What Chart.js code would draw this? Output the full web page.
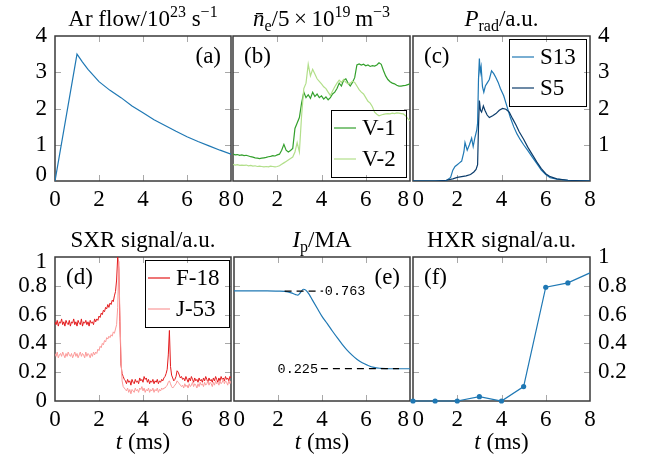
<!DOCTYPE html>
<html><head><meta charset="utf-8">
<script src="https://cdn.jsdelivr.net/npm/chart.js@4.4.1/dist/chart.umd.min.js"></script>
<style>
html,body{margin:0;padding:0;background:#fff;overflow:hidden;font-family:"Liberation Serif","DejaVu Serif",serif}
#wrap{position:relative;width:652px;height:459px;background:#fff}
#wrap canvas{position:absolute;left:0;top:0}
</style></head><body>
<div id="wrap">
<canvas id="pa" width="652" height="459"></canvas>
<canvas id="pb" width="652" height="459"></canvas>
<canvas id="pc" width="652" height="459"></canvas>
<canvas id="pd" width="652" height="459"></canvas>
<canvas id="pe" width="652" height="459"></canvas>
<canvas id="pf" width="652" height="459"></canvas>
</div>
<script>
// ---------------- data ----------------
const timeTicks = [0, 2, 4, 6, 8];

// (a) Ar flow / 1e23 s^-1
const tAr = [0, 1, 1.25, 1.5, 2, 2.5, 3, 3.5, 4, 4.5, 5, 5.5, 6, 6.5, 7, 7.5, 8];
const arFlow = [0, 3.5, 3.28, 3.08, 2.74, 2.5, 2.3, 2.07, 1.88, 1.69, 1.53, 1.37, 1.22, 1.09, 0.97, 0.85, 0.74];

// (b) line-averaged density / 5e19 m^-3, sampled every 0.1 ms
const densV1 = [
  0.74,0.72,0.73,0.71,0.72,0.70,0.71,0.69,0.67,0.66,
  0.64,0.63,0.62,0.63,0.64,0.65,0.67,0.68,0.70,0.69,
  0.72,0.74,0.85,1.01,0.85,0.80,0.84,0.90,1.45,1.60,
  1.75,2.15,2.45,2.30,2.38,2.28,2.45,2.33,2.40,2.30,
  2.35,2.26,2.32,2.24,2.30,2.40,2.45,2.55,2.70,2.62,
  2.78,2.82,2.70,2.62,2.72,2.85,3.20,3.23,3.20,3.22,
  3.18,3.20,3.16,3.18,3.17,3.20,3.26,3.22,3.05,2.90,
  2.80,2.74,2.70,2.68,2.64,2.62,2.62,2.63,2.64,2.66,
  2.68];
const densV2 = [
  0.46,0.44,0.45,0.43,0.44,0.43,0.44,0.42,0.43,0.41,
  0.42,0.40,0.41,0.40,0.39,0.40,0.39,0.41,0.40,0.39,
  0.40,0.42,0.46,0.50,0.54,0.58,0.62,0.66,0.80,1.06,
  0.80,1.80,2.55,2.70,3.22,2.90,3.08,2.95,2.82,2.75,
  2.68,2.60,2.55,2.45,2.36,2.48,2.60,2.70,2.78,2.72,
  2.80,2.72,2.68,2.70,2.75,2.72,2.62,2.52,2.45,2.40,
  2.30,2.20,2.15,2.05,1.90,1.84,1.80,1.82,1.84,1.85,
  1.86,1.85,1.87,1.86,1.88,1.87,1.86,1.85,1.80,1.72,
  1.66];

// (c) radiated power, a.u.
const tS13 = [0,1,1.5,1.7,1.8,1.9,2.0,2.1,2.2,2.3,2.35,2.45,2.55,2.65,2.72,2.8,2.88,2.92,2.96,3.0,3.04,3.08,3.14,3.2,3.27,3.35,3.45,3.55,3.65,3.75,3.85,3.95,4.1,4.25,4.4,4.55,4.7,4.85,5.0,5.2,5.4,5.6,5.8,6.0,6.2,6.5,7.0,8.0];
const pS13 = [0,0,0.01,0.1,0.3,0.4,0.45,0.5,0.55,0.8,1.06,0.85,1.0,1.18,0.95,1.2,1.4,1.6,2.8,3.38,3.0,3.15,2.6,2.45,2.62,2.7,2.8,3.04,2.96,2.85,2.72,2.55,2.35,2.05,1.75,1.5,1.3,1.14,1.0,0.83,0.65,0.48,0.3,0.18,0.09,0.05,0.02,0];
const tS5 = [0,1,1.5,1.8,2.0,2.2,2.4,2.6,2.75,2.85,2.92,2.96,3.0,3.05,3.1,3.18,3.25,3.35,3.45,3.6,3.75,3.9,4.05,4.2,4.35,4.5,4.65,4.8,5.0,5.2,5.4,5.6,5.8,6.0,6.2,6.5,7.0,8.0];
const pS5 = [0,0,0.02,0.06,0.1,0.12,0.14,0.18,0.25,0.32,0.45,1.5,2.22,1.95,1.9,2.07,1.95,1.82,1.75,1.8,1.86,1.95,2.0,1.98,1.9,1.72,1.55,1.36,1.15,0.92,0.72,0.52,0.34,0.2,0.12,0.06,0.02,0];

// (d) SXR signals, a.u., sampled every 0.05 ms
const sxrF18 = [
  0.55,0.53,0.56,0.52,0.55,0.54,0.57,0.53,0.55,0.52,0.56,0.54,0.53,0.56,0.52,0.55,0.54,0.57,0.53,0.55,
  0.52,0.56,0.54,0.53,0.57,0.52,0.55,0.54,0.56,0.53,0.55,0.52,0.56,0.54,0.55,0.53,0.57,0.55,0.57,0.56,
  0.59,0.58,0.61,0.60,0.63,0.62,0.65,0.64,0.67,0.65,0.68,0.67,0.70,0.69,0.73,0.76,0.84,1.00,0.92,0.55,
  0.25,0.19,0.17,0.15,0.14,0.12,0.15,0.13,0.14,0.11,0.15,0.13,0.12,0.15,0.13,0.14,0.12,0.16,0.14,0.15,
  0.13,0.17,0.15,0.16,0.13,0.15,0.12,0.14,0.13,0.15,0.12,0.14,0.13,0.15,0.12,0.14,0.13,0.15,0.14,0.16,
  0.17,0.19,0.22,0.32,0.49,0.24,0.18,0.16,0.14,0.15,0.17,0.21,0.20,0.18,0.16,0.17,0.15,0.16,0.14,0.17,
  0.15,0.13,0.16,0.14,0.17,0.15,0.13,0.16,0.14,0.15,0.13,0.16,0.14,0.15,0.13,0.16,0.14,0.17,0.15,0.13,
  0.16,0.14,0.15,0.13,0.16,0.14,0.17,0.15,0.13,0.16,0.14,0.17,0.15,0.16,0.14,0.17,0.15,0.16,0.14,0.17,
  0.16];
const sxrJ53 = [
  0.33,0.31,0.34,0.30,0.32,0.33,0.31,0.34,0.32,0.30,0.33,0.31,0.34,0.32,0.31,0.33,0.30,0.32,0.34,0.31,
  0.33,0.30,0.32,0.34,0.31,0.33,0.32,0.30,0.34,0.31,0.33,0.32,0.30,0.33,0.31,0.34,0.32,0.34,0.33,0.36,
  0.35,0.38,0.37,0.40,0.39,0.42,0.41,0.44,0.43,0.45,0.44,0.46,0.45,0.48,0.47,0.50,0.53,0.65,0.97,0.60,
  0.30,0.14,0.10,0.09,0.08,0.07,0.09,0.06,0.08,0.05,0.08,0.07,0.06,0.09,0.07,0.08,0.06,0.09,0.08,0.10,
  0.07,0.09,0.06,0.08,0.07,0.09,0.06,0.08,0.07,0.09,0.06,0.08,0.07,0.09,0.06,0.08,0.07,0.09,0.08,0.09,
  0.09,0.10,0.11,0.13,0.14,0.12,0.10,0.09,0.10,0.11,0.12,0.14,0.13,0.12,0.11,0.10,0.11,0.09,0.12,0.10,
  0.11,0.09,0.12,0.10,0.11,0.13,0.10,0.12,0.11,0.09,0.12,0.10,0.13,0.11,0.12,0.10,0.13,0.11,0.12,0.14,
  0.11,0.13,0.12,0.10,0.13,0.11,0.14,0.12,0.13,0.11,0.14,0.12,0.13,0.15,0.12,0.14,0.13,0.11,0.14,0.12,
  0.14];

// (e) plasma current, MA
const tIp = [0,0.5,1,1.5,2,2.3,2.6,2.8,2.9,3.03,3.15,3.26,3.41,3.56,3.79,4.0,4.24,4.47,4.7,4.92,5.15,5.38,5.6,5.83,6.06,6.36,6.67,7.12,7.5,8];
const ip = [0.765,0.765,0.765,0.765,0.763,0.761,0.751,0.739,0.735,0.755,0.776,0.77,0.742,0.702,0.642,0.588,0.537,0.486,0.438,0.394,0.352,0.317,0.288,0.265,0.249,0.233,0.227,0.224,0.224,0.224];
const ipLevels = [0.763, 0.225];

// (f) HXR signal, a.u.
const tHxr = [0,1,2,3,4,5,6,7,8];
const hxr = [0,0,0,0.03,0,0.1,0.79,0.82,0.89];

// ---------------- helpers ----------------
const FONT = '"Liberation Serif", "DejaVu Serif", serif';
const MONO = '"Liberation Mono", "DejaVu Sans Mono", monospace';
const BLUE = '#1f78b4', NAVY = '#0b3c6b', GREEN = '#33a02c', LGREEN = '#b2df8a', RED = '#e31a1c', PINK = '#fb9a99';

const xy = (ts, vs) => vs.map((v, i) => ({x: ts[i], y: v}));
const stepXY = (dt, vs) => vs.map((v, i) => ({x: Math.round(i * dt * 1000) / 1000, y: v}));

function segFont(s) {
  const size = s.s ? 16 : 23;
  return (s.it ? 'italic ' : '') + size + 'px ' + FONT;
}
function drawRich(ctx, segs, cx, base) {
  let total = 0;
  const w = segs.map(s => { ctx.font = segFont(s); const m = ctx.measureText(s.t).width; total += m; return m; });
  let x = cx - total / 2;
  ctx.textAlign = 'left';
  ctx.textBaseline = 'alphabetic';
  segs.forEach((s, i) => {
    ctx.font = segFont(s);
    const dy = s.s === 'sup' ? -9 : (s.s === 'sub' ? 5 : 0);
    ctx.fillText(s.t, x, base + dy);
    x += w[i];
  });
}
function drawFrame(chart) {
  const {ctx, chartArea: a, scales} = chart;
  const xs = scales.x, ys = scales.y;
  ctx.save();
  ctx.strokeStyle = '#a8a8a8';
  ctx.lineWidth = 1;
  ctx.beginPath();
  xs.ticks.forEach(t => {
    if (t.value <= xs.min || t.value >= xs.max) return;
    const px = Math.round(xs.getPixelForValue(t.value)) + 0.5;
    ctx.moveTo(px, a.top); ctx.lineTo(px, a.top + 6);
    ctx.moveTo(px, a.bottom); ctx.lineTo(px, a.bottom - 6);
  });
  ys.ticks.forEach(t => {
    if (t.value <= ys.min + 1e-9 || t.value >= ys.max - 1e-9) return;
    const py = Math.round(ys.getPixelForValue(t.value)) + 0.5;
    ctx.moveTo(a.left, py); ctx.lineTo(a.left + 6, py);
    ctx.moveTo(a.right, py); ctx.lineTo(a.right - 6, py);
  });
  ctx.stroke();
  ctx.strokeStyle = '#3a3a3a';
  ctx.lineWidth = 1.5;
  ctx.strokeRect(a.left, a.top, a.right - a.left, a.bottom - a.top);
  ctx.restore();
}
function drawLegend(ctx, a, lg) {
  ctx.font = '23px ' + FONT;
  const tw = Math.max(...lg.items.map(i => ctx.measureText(i.label).width));
  const w = Math.round(31 + tw + 10), h = 67;
  const x = Math.round(a.right - lg.inset - w);
  const y = Math.round(lg.anchor === 'br' ? a.bottom - 4 - h : a.top + 3);
  ctx.strokeStyle = '#000';
  ctx.lineWidth = 1;
  ctx.strokeRect(x + 0.5, y + 0.5, w, h);
  lg.items.forEach((it, k) => {
    const yy = y + 18 + k * 31;
    ctx.strokeStyle = it.color;
    ctx.lineWidth = 1.2;
    ctx.beginPath(); ctx.moveTo(x + 3, yy); ctx.lineTo(x + 25, yy); ctx.stroke();
    ctx.fillStyle = '#000';
    ctx.textAlign = 'left';
    ctx.textBaseline = 'middle';
    ctx.fillText(it.label, x + 31, yy + 1);
  });
}
function makeDeco(c) {
  return {
    id: 'deco',
    beforeDraw(chart) {
      // nudge the end tick labels inward where neighbouring panels meet
      const xs = chart.scales.x, ys = chart.scales.y;
      xs.getLabelItems().forEach(it => {
        const o = it.options, tr = o.translation;
        if (it.label === '0' && c.x0 === 'left') { o.textAlign = 'left'; o.translation = [xs.left - 0.5, tr[1]]; }
        if (it.label === '8' && c.x8 === 'right') { o.textAlign = 'right'; o.translation = [xs.right - 1, tr[1]]; }
      });
      if (c.yShift) ys.getLabelItems().forEach(it => {
        const d = c.yShift[it.label];
        if (d) { const tr = it.options.translation; it.options.translation = [tr[0], tr[1] + d]; }
      });
    },
    beforeDatasetsDraw(chart) { drawFrame(chart); },
    afterDatasetsDraw(chart) {
      const {ctx, chartArea: a, scales} = chart;
      ctx.save();
      ctx.fillStyle = '#000';
      ctx.font = '23px ' + FONT;
      ctx.textBaseline = 'alphabetic';
      if (c.letterPos === 'tr') { ctx.textAlign = 'right'; ctx.fillText(c.letter, a.right - 10, a.top + 27); }
      else { ctx.textAlign = 'left'; ctx.fillText(c.letter, a.left + 11, a.top + 27); }
      if (c.legend) drawLegend(ctx, a, c.legend);
      if (c.notes) c.notes.forEach(n => {
        ctx.font = '13.5px ' + MONO;
        ctx.fillStyle = '#000';
        ctx.textAlign = n.align;
        ctx.textBaseline = 'middle';
        ctx.fillText(n.text, scales.x.getPixelForValue(n.x), scales.y.getPixelForValue(n.y) + 0.5);
      });
      ctx.fillStyle = '#000';
      drawRich(ctx, c.title, (a.left + a.right) / 2, a.top - 10);
      if (c.xTitle) drawRich(ctx, c.xTitle, (a.left + a.right) / 2, a.bottom + 48);
      ctx.restore();
    }
  };
}
function panel(id, rect, c) {
  const W = 652, H = 459, WY = 60, HX = 30;
  const right = c.yPos === 'right';
  const padding = {
    left: right ? rect.L : rect.L - WY,
    right: right ? W - rect.R - WY : W - rect.R,
    top: rect.T,
    bottom: H - rect.B - HX
  };
  return new Chart(document.getElementById(id), {
    type: 'line',
    data: {datasets: c.datasets},
    options: {
      responsive: false, animation: false, events: [],
      layout: {padding},
      plugins: {legend: {display: false}, tooltip: {enabled: false}, title: {display: false}},
      elements: {point: {radius: 0}, line: {borderWidth: 1.2, tension: 0, fill: false}},
      scales: {
        x: {
          type: 'linear', min: 0, max: 8, position: 'bottom',
          grid: {display: false, drawTicks: false}, border: {display: false},
          afterBuildTicks: s => { s.ticks = timeTicks.map(v => ({value: v})); },
          ticks: {autoSkip: false, maxRotation: 0, minRotation: 0, padding: 5, color: '#000',
                  font: {family: FONT, size: 23}, callback: v => String(v)},
          afterFit: s => { s.height = HX; }
        },
        y: {
          type: 'linear', min: c.yMin, max: c.yMax, position: right ? 'right' : 'left',
          grid: {display: false, drawTicks: false}, border: {display: false},
          ticks: {stepSize: c.yStep, autoSkip: false, padding: 8, color: '#000',
                  font: {family: FONT, size: 23}, display: !!c.yLabel,
                  callback: c.yLabel || (() => '')},
          afterFit: s => { s.width = WY; }
        }
      }
    },
    plugins: [makeDeco(c)]
  });
}
const fmt1 = v => String(Math.round(v * 10) / 10);
const xTitle = [{t: 't', it: true}, {t: ' (ms)'}];

function build() {
  panel('pa', {L: 55, R: 231, T: 36, B: 181}, {
    yMin: 0, yMax: 4, yStep: 1, yPos: 'left', yLabel: v => String(v),
    x0: 'center', x8: 'right', yShift: {'0': -6},
    letter: '(a)', letterPos: 'tr',
    title: [{t: 'Ar flow/10'}, {t: '23', s: 'sup'}, {t: ' s'}, {t: '\u22121', s: 'sup'}],
    datasets: [{data: xy(tAr, arFlow), borderColor: BLUE}]
  });
  panel('pb', {L: 233, R: 410, T: 36, B: 181}, {
    yMin: 0, yMax: 4, yStep: 1, yPos: 'left',
    x0: 'left', x8: 'right',
    letter: '(b)', letterPos: 'tl',
    title: [{t: 'n\u0304', it: true}, {t: 'e', s: 'sub'}, {t: '/5\u2009\u00d7\u200910'}, {t: '19', s: 'sup'}, {t: '\u2009m'}, {t: '\u22123', s: 'sup'}],
    legend: {anchor: 'br', inset: 4, items: [{label: 'V-1', color: GREEN}, {label: 'V-2', color: LGREEN}]},
    datasets: [
      {data: stepXY(0.1, densV1), borderColor: GREEN, order: 1},
      {data: stepXY(0.1, densV2), borderColor: LGREEN, order: 0}
    ]
  });
  panel('pc', {L: 413, R: 590, T: 36, B: 181}, {
    yMin: 0, yMax: 4, yStep: 1, yPos: 'right', yLabel: v => (v === 0 ? '' : String(v)),
    x0: 'left', x8: 'center',
    letter: '(c)', letterPos: 'tl',
    title: [{t: 'P', it: true}, {t: 'rad', s: 'sub'}, {t: '/a.u.'}],
    legend: {anchor: 'tr', inset: 4, items: [{label: 'S13', color: BLUE}, {label: 'S5', color: NAVY}]},
    datasets: [
      {data: xy(tS13, pS13), borderColor: BLUE, order: 1},
      {data: xy(tS5, pS5), borderColor: NAVY, order: 0}
    ]
  });
  panel('pd', {L: 55, R: 231, T: 257, B: 401}, {
    yMin: 0, yMax: 1, yStep: 0.2, yPos: 'left', yLabel: fmt1,
    x0: 'center', x8: 'right', yShift: {'1': 5},
    letter: '(d)', letterPos: 'tl', xTitle,
    title: [{t: 'SXR signal/a.u.'}],
    legend: {anchor: 'tr', inset: 2, items: [{label: 'F-18', color: RED}, {label: 'J-53', color: PINK}]},
    datasets: [
      {data: stepXY(0.05, sxrF18), borderColor: RED, borderWidth: 1, order: 1},
      {data: stepXY(0.05, sxrJ53), borderColor: PINK, borderWidth: 1, order: 0}
    ]
  });
  panel('pe', {L: 234, R: 410, T: 257, B: 401}, {
    yMin: 0, yMax: 1, yStep: 0.2, yPos: 'left',
    x0: 'left', x8: 'right',
    letter: '(e)', letterPos: 'tr', xTitle,
    title: [{t: 'I', it: true}, {t: 'p', s: 'sub'}, {t: '/MA'}],
    notes: [{text: String(ipLevels[0]), x: 4.13, y: ipLevels[0], align: 'left'},
            {text: String(ipLevels[1]), x: 3.82, y: ipLevels[1], align: 'right'}],
    datasets: [
      {data: xy(tIp, ip), borderColor: BLUE, cubicInterpolationMode: 'monotone', order: 2},
      {data: [{x: 2.3, y: ipLevels[0]}, {x: 4.05, y: ipLevels[0]}], borderColor: '#000', borderDash: [7, 5], borderWidth: 1.2, order: 0},
      {data: [{x: 3.95, y: ipLevels[1]}, {x: 7.5, y: ipLevels[1]}], borderColor: '#000', borderDash: [7, 5], borderWidth: 1.2, order: 1}
    ]
  });
  panel('pf', {L: 413, R: 590, T: 257, B: 401}, {
    yMin: 0, yMax: 1, yStep: 0.2, yPos: 'right', yLabel: v => (v < 0.01 ? '' : fmt1(v)),
    x0: 'left', x8: 'center',
    letter: '(f)', letterPos: 'tl', xTitle,
    title: [{t: 'HXR signal/a.u.'}],
    datasets: [{
      data: xy(tHxr, hxr), borderColor: BLUE, clip: false,
      pointRadius: [2.6, 2.6, 2.6, 2.6, 2.6, 2.6, 2.6, 2.6, 0],
      pointBackgroundColor: BLUE, pointBorderColor: BLUE, pointBorderWidth: 0
    }]
  });
}

(async function () {
  try {
    await Promise.all([
      document.fonts.load('23px "Liberation Serif"'),
      document.fonts.load('italic 23px "Liberation Serif"'),
      document.fonts.load('16px "Liberation Serif"'),
      document.fonts.load('13.5px "Liberation Mono"')
    ]);
    await document.fonts.ready;
  } catch (e) {}
  build();
})();
</script>
</body></html>
